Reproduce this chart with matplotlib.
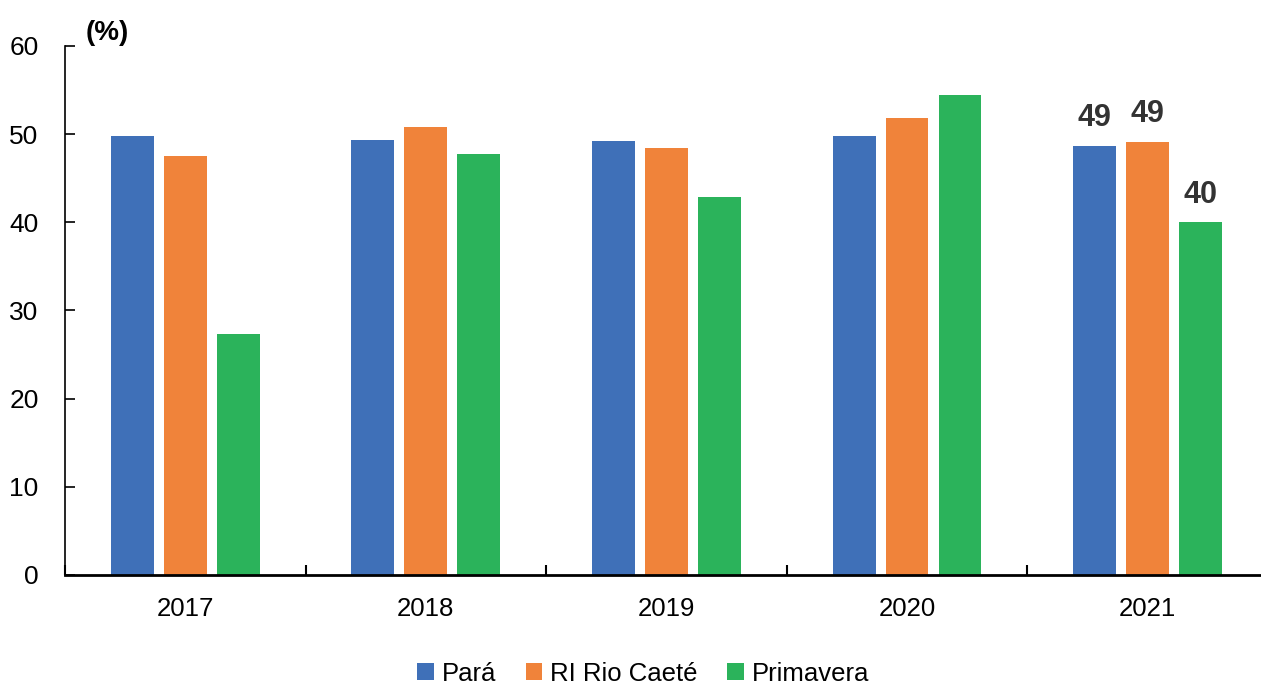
import matplotlib.pyplot as plt
import numpy as np
from matplotlib import font_manager

years = ["2017", "2018", "2019", "2020", "2021"]
para = [49.8, 49.3, 49.2, 49.8, 48.7]
rio_caete = [47.5, 50.8, 48.4, 51.8, 49.1]
primavera = [27.3, 47.7, 42.9, 54.4, 40.0]
series_names = ["Pará", "RI Rio Caeté", "Primavera"]
labels_2021 = ["49", "49", "40"]

colors = ["#3F70B8", "#F0833A", "#2BB35B"]

names = {f.name for f in font_manager.fontManager.ttflist}
narrow = "Liberation Sans Narrow" if "Liberation Sans Narrow" in names else "Liberation Sans"
plt.rcParams['font.family'] = ['Liberation Sans', 'DejaVu Sans']

fig = plt.figure(figsize=(12.61, 6.95), dpi=100)
ax = fig.add_axes([0.0515, 0.1727, 0.954, 0.7613])

x = np.arange(len(years))
w = 0.178
step = 0.22
data = [para, rio_caete, primavera]
for i, (vals, name, c) in enumerate(zip(data, series_names, colors)):
    bars = ax.bar(x + (i - 1) * step, vals, width=w, color=c, label=name)
    ax.annotate(labels_2021[i], (x[-1] + (i - 1) * step, vals[-1]),
                xytext=(0, 9), textcoords="offset points", ha="center", va="bottom",
                fontsize=22, fontweight="bold", family=narrow, color="#333333")

ax.set_ylim(0, 60)
ax.set_xlim(-0.5, len(years) - 0.5)
ax.set_yticks(range(0, 61, 10))
ax.set_xticks(x)
ax.set_xticklabels(years)
ax.set_xticks(np.arange(-0.5, len(years)), minor=True)
ax.tick_params(axis="x", which="major", length=0, pad=16, labelsize=18.5)
ax.tick_params(axis="x", which="minor", direction="in", length=7, width=1.5)
ax.tick_params(axis="y", direction="in", length=7, width=1.2, labelsize=19, pad=19)
for lab in ax.get_yticklabels():
    lab.set_horizontalalignment("right")
ax.spines["top"].set_visible(False)
ax.spines["right"].set_visible(False)
ax.spines["left"].set_linewidth(1.2)
ax.spines["bottom"].set_linewidth(2)

ax.text(0.017, 1.0, "(%)", transform=ax.transAxes, fontsize=20, fontweight="bold",
        ha="left", va="bottom", family=narrow)

fig.legend(loc="lower center", bbox_to_anchor=(0.51, -0.02), ncol=3, frameon=False,
           fontsize=18.5, handlelength=0.65, handleheight=0.65, handletextpad=0.3,
           columnspacing=1.15)

fig.savefig("out.png", dpi=100)
